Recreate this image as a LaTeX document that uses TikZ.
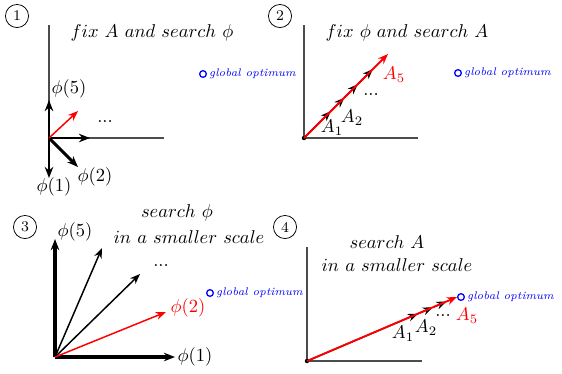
\documentclass[tikz,border=0pt]{standalone}
\usetikzlibrary{arrows.meta,calc}
\begin{document}
\begin{tikzpicture}[x=0.54pt,y=-0.54pt,
    axis/.style={gray!60!black,line width=0.7pt},
    big/.style={-{Stealth[length=6pt,width=4.6pt]},line width=1.6pt},
    vec/.style={-{Stealth[length=5.5pt,width=4.2pt]},line width=0.8pt},
    num/.style={circle,draw,inner sep=0pt,minimum size=12.5pt,font=\footnotesize},
    opt/.style={circle,draw=blue,line width=0.7pt,inner sep=0pt,minimum size=3.6pt},
    optlabel/.style={blue,font=\fontsize{6}{7}\selectfont\itshape,anchor=west,inner sep=1pt}]
    \useasboundingbox (0,0) rectangle (562,373);

    % Panel 1: fix A, search phi
    \node[num] (n1) at (17,16) {1};
    \coordinate (o1) at (49,138);
    \coordinate (y1) at (49,25);
    \coordinate (x1) at (164,138);
    \draw[axis] (o1) -- (y1);
    \draw[axis] (o1) -- (x1);
    \coordinate (a1) at (49,178);
    \coordinate (a2) at (78,167);
    \coordinate (a3) at (90,138);
    \coordinate (a5) at (49,100);
    \coordinate (a4) at (78,111);
    \draw[big] (o1) -- (a1);
    \draw[big] (o1) -- (a2);
    \draw[big] (o1) -- (a3);
    \draw[big] (o1) -- (a5);
    \draw[vec,red] (o1) -- (a4);
    \node (l11) at (54,187) {$\phi(1)$};
    \node (l12) at (95,177) {$\phi(2)$};
    \node (l15) at (69,89) {$\phi(5)$};
    \node (d1) at (105,122) {...};
    \node (t1) at (152,33) {$fix\ A\ and\ search\ \phi$};
    \node[opt] (g1) at (203,74) {};
    \node[optlabel] at (g1.east) {global optimum};

    % Panel 2: fix phi, search A
    \node[num] (n2) at (280,16) {2};
    \coordinate (o2) at (304,138);
    \coordinate (y2) at (304,25);
    \coordinate (x2) at (418,138);
    \draw[axis] (o2) -- (y2);
    \draw[axis] (o2) -- (x2);
    \fill (o2) circle (1.2pt);
    \coordinate (e2) at (388,54);
    \coordinate (b1) at ($(o2)!0.32!(e2)$);
    \coordinate (b2) at ($(o2)!0.48!(e2)$);
    \coordinate (b3) at ($(o2)!0.64!(e2)$);
    \coordinate (b4) at ($(o2)!0.82!(e2)$);
    \draw[vec] (o2) -- (b1);
    \draw[vec] (b1) -- (b2);
    \draw[vec] (b2) -- (b3);
    \draw[vec] (b3) -- (b4);
    \draw[vec,red,line width=1pt] (o2) -- (e2);
    \node (l21) at (332,128) {$A_1$};
    \node (l22) at (352,118) {$A_2$};
    \node (d2) at (371,95) {...};
    \node[red] (l25) at (394,75) {$A_5$};
    \node (t2) at (407,33) {$fix\ \phi\ and\ search\ A$};
    \node[opt] (g2) at (458,73) {};
    \node[optlabel] at (g2.east) {global optimum};

    % Panel 3: search phi in a smaller scale
    \node[num] (n3) at (25,227) {3};
    \coordinate (o3) at (55,357);
    \coordinate (c1) at (175,357);
    \coordinate (c5) at (55,239);
    \coordinate (c4) at (102,248);
    \coordinate (c3) at (140,274);
    \coordinate (c2) at (166,312);
    \draw[big,line width=1.9pt] (o3) -- (c1);
    \draw[big,line width=1.9pt] (o3) -- (c5);
    \draw[vec] (o3) -- (c4);
    \draw[vec] (o3) -- (c3);
    \draw[vec,red] (o3) -- (c2);
    \node (l31) at (195,357) {$\phi(1)$};
    \node[red] (l32) at (188,308) {$\phi(2)$};
    \node (l35) at (75,232) {$\phi(5)$};
    \node (d3) at (161,266) {...};
    \node (t3a) at (177,213) {$search\ \phi$};
    \node (t3b) at (189,237) {$in\ a\ smaller\ scale$};
    \node[opt] (g3) at (210,293) {};
    \node[optlabel] at (g3.east) {global optimum};

    % Panel 4: search A in a smaller scale
    \node[num] (n4) at (285,227) {4};
    \coordinate (o4) at (307,361);
    \coordinate (y4) at (307,247);
    \coordinate (x4) at (422,361);
    \draw[axis] (o4) -- (y4);
    \draw[axis] (o4) -- (x4);
    \fill (o4) circle (1.2pt);
    \node[opt] (g4) at (461,297) {};
    \coordinate (e4) at (g4.west);
    \coordinate (f1) at ($(o4)!0.74!(e4)$);
    \coordinate (f2) at ($(o4)!0.84!(e4)$);
    \coordinate (f3) at ($(o4)!0.93!(e4)$);
    \draw[vec] (o4) -- (f1);
    \draw[vec] (f1) -- (f2);
    \draw[vec] (f2) -- (f3);
    \draw[vec,red,line width=1pt] (o4) -- (e4);
    \node (l41) at (403,334) {$A_1$};
    \node (l42) at (426,328) {$A_2$};
    \node (d4) at (443,316) {...};
    \node[red] (l45) at (467,316) {$A_5$};
    \node (t4a) at (387,242) {$search\ A$};
    \node (t4b) at (397,265) {$in\ a\ smaller\ scale$};
    \node[optlabel] at (g4.east) {global optimum};
\end{tikzpicture}
\end{document}
